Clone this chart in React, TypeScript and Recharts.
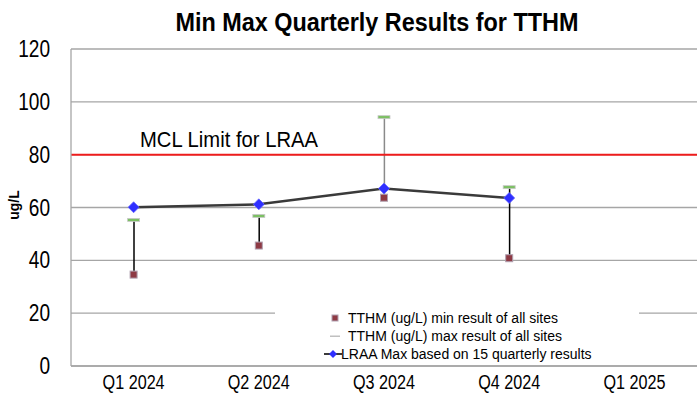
import React from 'react';
import {
  ComposedChart, Line, Bar, XAxis, YAxis, CartesianGrid, ReferenceLine,
} from 'recharts';

const categories = ['Q1 2024', 'Q2 2024', 'Q3 2024', 'Q4 2024', 'Q1 2025'];
const minValues: (number | null)[] = [34.6, 45.6, 63.7, 40.8, null];
const maxValues: (number | null)[] = [55.3, 56.8, 94.2, 67.7, null];
const lraaValues: (number | null)[] = [60.1, 61.2, 67.2, 63.6, null];
const yTicks = [0, 20, 40, 60, 80, 100, 120];
const mclLimit = 80;
const titleText = 'Min Max Quarterly Results for TTHM';
const mclText = 'MCL Limit for LRAA';
const yAxisTitle = 'ug/L';
const legendLabels = [
  'TTHM (ug/L) min result of all sites',
  'TTHM (ug/L) max result of all sites',
  'LRAA Max based on 15 quarterly results',
];

const whiskerColors = ['#000000', '#000000', '#8a8a8a', '#000000', '#000000'];

const data = categories.map((c, i) => ({
  name: c,
  min: minValues[i],
  max: maxValues[i],
  lraa: lraaValues[i],
  range: minValues[i] != null && maxValues[i] != null ? [minValues[i], maxValues[i]] : null,
}));

const FONT = '"Liberation Sans", Arial, sans-serif';

const StretchText = ({ x, y, size, sx = 1, anchor = 'start', bold = false, fill = '#000', children }: any) => (
  <text transform={`translate(${x},${y}) scale(${sx},1)`} x={0} y={0} fontSize={size}
    fontFamily={FONT} fontWeight={bold ? 'bold' : 'normal'} textAnchor={anchor} fill={fill}>
    {children}
  </text>
);

const XTick = (props: any) => {
  const { x, y, payload } = props;
  return <StretchText x={x} y={y + 23} size={21} sx={0.77} anchor="middle">{payload.value}</StretchText>;
};

const YTick = (props: any) => {
  const { x, y, payload } = props;
  return <StretchText x={x - 21} y={y + 8} size={23} sx={0.83} anchor="end">{payload.value}</StretchText>;
};

const WhiskerShape = (props: any) => {
  const { x, y, width, height, index } = props;
  if (x == null || y == null || !height) return null;
  const cx = x + width / 2;
  return (
    <line x1={cx} x2={cx} y1={y} y2={y + height} stroke={whiskerColors[index] || '#000'} strokeWidth={1.5} />
  );
};

const MinDot = (props: any) => {
  const { cx, cy, value } = props;
  if (value == null || cx == null || cy == null) return null;
  return <rect x={cx - 3.5} y={cy - 3.5} width={7} height={7} fill="#8e3a44" stroke="#b0a0b0" strokeWidth={1} />;
};

const MaxDot = (props: any) => {
  const { cx, cy, value } = props;
  if (value == null || cx == null || cy == null) return null;
  return <rect x={cx - 6} y={cy - 1.5} width={12} height={3} fill="#7cc063" stroke="#c8c8c8" strokeWidth={0.8} />;
};

const Diamond = (props: any) => {
  const { cx, cy, value } = props;
  if (value == null || cx == null || cy == null) return null;
  return <path d={`M${cx},${cy - 5.5} L${cx + 5.5},${cy} L${cx},${cy + 5.5} L${cx - 5.5},${cy} Z`} fill="#2f2fff" stroke="#6a6aff" strokeWidth={0.8} />;
};

const MclLabel = (props: any) => {
  const vb = props.viewBox || {};
  return (
    <StretchText x={(vb.x || 0) + 69} y={(vb.y || 0) - 8} size={22} sx={0.92}>{mclText}</StretchText>
  );
};

const YLabel = () => (
  <text x={14} y={205} fontSize={14} fontWeight="bold" fontFamily={FONT} fill="#000"
    textAnchor="middle" dominantBaseline="central" transform="rotate(-90 14 205)">
    {yAxisTitle}
  </text>
);

export default function App() {
  return (
    <div style={{ position: 'absolute', left: 0, top: 0, width: 698, height: 407, background: '#fff', fontFamily: FONT }}>
      <ComposedChart width={698} height={407} data={data} margin={{ top: 49, right: 1, bottom: 0, left: 0 }}>
        <CartesianGrid vertical={false} stroke="#a6a6a6" strokeWidth={1.3} />
        <XAxis dataKey="name" height={41} tickLine={false} tickSize={0} tickMargin={0}
          axisLine={{ stroke: '#a6a6a6', strokeWidth: 1.3 }}
          tick={<XTick />} interval={0} />
        <YAxis domain={[0, 120]} ticks={yTicks} width={71} tickLine={false} tickSize={0} tickMargin={0}
          axisLine={{ stroke: '#a6a6a6', strokeWidth: 1.3 }}
          tick={<YTick />} label={<YLabel />} />
        <ReferenceLine y={mclLimit} stroke="#ee1c1c" strokeWidth={2} label={<MclLabel />} ifOverflow="extendDomain" />
        <Bar dataKey="range" shape={<WhiskerShape />} isAnimationActive={false} barSize={10} />
        <Line dataKey="max" stroke="none" dot={<MaxDot />} activeDot={false} isAnimationActive={false} />
        <Line dataKey="min" stroke="none" dot={<MinDot />} activeDot={false} isAnimationActive={false} />
        <Line dataKey="lraa" stroke="#3a3a3a" strokeWidth={2.5} dot={<Diamond />} activeDot={false} isAnimationActive={false} />
      </ComposedChart>
      <svg style={{ position: 'absolute', left: 0, top: 0 }} width={698} height={45}>
        <StretchText x={377} y={31} size={26} sx={0.9} anchor="middle" bold>{titleText}</StretchText>
      </svg>
      <div style={{ position: 'absolute', left: 275, top: 307, width: 364, height: 58, background: '#fff', fontSize: 14, color: '#000', lineHeight: '18px' }}>
        <div style={{ position: 'absolute', left: 0, top: 2, width: 364, height: 18 }}>
          <svg style={{ position: 'absolute', left: 56, top: 5 }} width={8} height={8}>
            <rect x={1} y={1} width={6} height={6} fill="#8e3a44" stroke="#b0a0b0" strokeWidth={1} />
          </svg>
          <span style={{ position: 'absolute', left: 73, top: 0, whiteSpace: 'nowrap' }}>{legendLabels[0]}</span>
        </div>
        <div style={{ position: 'absolute', left: 0, top: 20, width: 364, height: 18 }}>
          <svg style={{ position: 'absolute', left: 55, top: 8 }} width={10} height={3}>
            <rect x={0} y={0.5} width={10} height={1.5} fill="#c0c0c0" />
          </svg>
          <span style={{ position: 'absolute', left: 73, top: 0, whiteSpace: 'nowrap' }}>{legendLabels[1]}</span>
        </div>
        <div style={{ position: 'absolute', left: 0, top: 38, width: 364, height: 18 }}>
          <svg style={{ position: 'absolute', left: 49, top: 3 }} width={18} height={12}>
            <line x1={0} x2={18} y1={6} y2={6} stroke="#3a3a3a" strokeWidth={2} />
            <path d="M9,2 L13,6 L9,10 L5,6 Z" fill="#2f2fff" />
          </svg>
          <span style={{ position: 'absolute', left: 66, top: 0, whiteSpace: 'nowrap' }}>{legendLabels[2]}</span>
        </div>
      </div>
    </div>
  );
}
